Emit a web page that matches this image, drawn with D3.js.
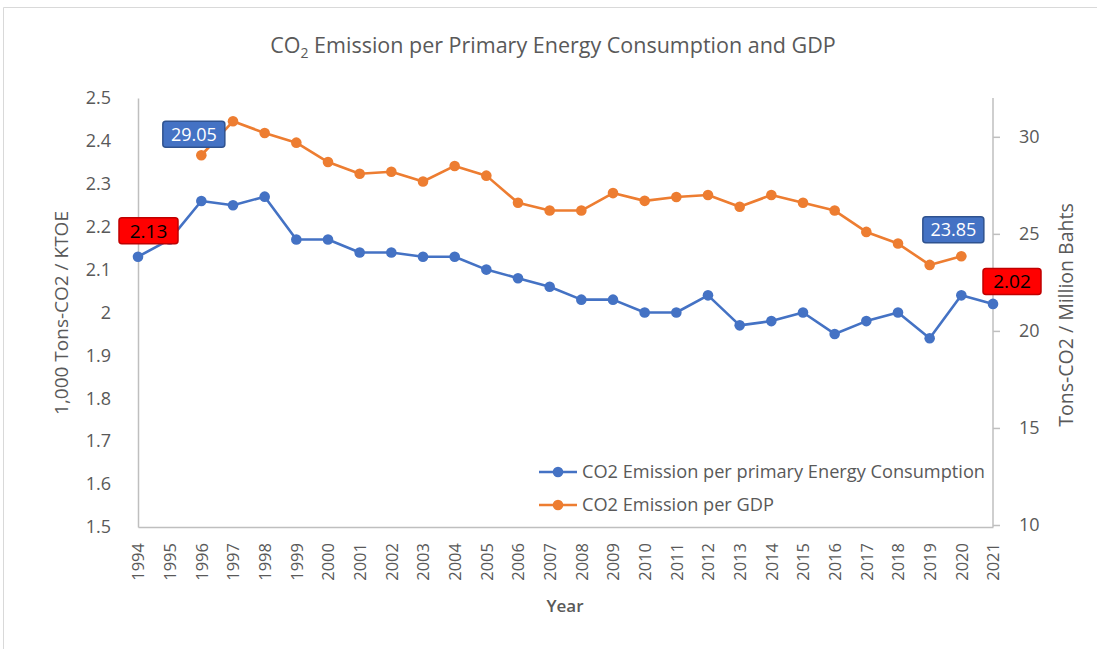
<!DOCTYPE html>
<html>
<head>
<meta charset="utf-8">
<script src="https://cdn.jsdelivr.net/npm/d3@7"></script>
<style>
  html, body { margin: 0; padding: 0; background: #fff; }
  svg { display: block; }
  text { font-family: "Open Sans", "Noto Sans", sans-serif; }
</style>
</head>
<body>
<svg id="chart" width="1097" height="649"></svg>
<script>
// Years on the category axis
const years = [1994, 1995, 1996, 1997, 1998, 1999, 2000, 2001, 2002, 2003, 2004,
  2005, 2006, 2007, 2008, 2009, 2010, 2011, 2012, 2013, 2014, 2015, 2016, 2017,
  2018, 2019, 2020, 2021];

// 1,000 Tons-CO2 / KTOE (left axis)
const perEnergy = [2.13, 2.17, 2.26, 2.25, 2.27, 2.17, 2.17, 2.14, 2.14, 2.13, 2.13,
  2.10, 2.08, 2.06, 2.03, 2.03, 2.00, 2.00, 2.04, 1.97, 1.98, 2.00, 1.95, 1.98,
  2.00, 1.94, 2.04, 2.02];

// Tons-CO2 / Million Bahts (right axis); no figures for 1994, 1995 and 2021
const perGDP = [null, null, 29.05, 30.8, 30.2, 29.7, 28.7, 28.1, 28.2, 27.7, 28.5,
  28.0, 26.6, 26.2, 26.2, 27.1, 26.7, 26.9, 27.0, 26.4, 27.0, 26.6, 26.2, 25.1,
  24.5, 23.4, 23.85, null];

const leftTicks = [1.5, 1.6, 1.7, 1.8, 1.9, 2, 2.1, 2.2, 2.3, 2.4, 2.5];
const rightTicks = [10, 15, 20, 25, 30];

const blue = "#4472C4", orange = "#ED7D31", grey = "#595959", axisGrey = "#BFBFBF";
const FONT = "'Open Sans', 'Noto Sans', sans-serif";

const svg = d3.select("#chart");

// chart frame
svg.append("path")
  .attr("d", "M3.5,649 V7.5 H1097")
  .attr("fill", "none").attr("stroke", "#D9D9D9").attr("stroke-width", 1);

const x = d3.scalePoint().domain(years).range([138, 993]);
const yL = d3.scaleLinear().domain([1.5, 2.5]).range([527, 98]);
const yR = d3.scaleLinear().domain([10, 32]).range([525, 98]);

// title
const title = svg.append("text")
  .attr("x", 553).attr("y", 53).attr("text-anchor", "middle")
  .attr("font-size", 21.5).attr("fill", grey);
title.append("tspan").text("CO");
title.append("tspan").attr("font-size", 14).attr("dy", 5).text("2");
title.append("tspan").attr("dy", -5).text(" Emission per Primary Energy Consumption and GDP");

// left axis
const gL = svg.append("g").attr("transform", "translate(138,0)")
  .call(d3.axisLeft(yL).tickValues(leftTicks).tickSize(0).tickPadding(27)
    .tickFormat(d => String(+d.toFixed(1))));
gL.select(".domain").attr("stroke", axisGrey).attr("stroke-width", 1.5);
gL.selectAll("text").attr("font-size", 18).attr("fill", grey).attr("font-family", FONT);

// right axis
const gR = svg.append("g").attr("transform", "translate(993,0)")
  .call(d3.axisRight(yR).tickValues(rightTicks).tickSize(7).tickPadding(19));
gR.select(".domain").attr("stroke", axisGrey).attr("stroke-width", 1.5)
  .attr("d", `M0,${yL(2.5)}V${yL(1.5)}`);
gR.selectAll("line").attr("stroke", axisGrey).attr("stroke-width", 1.5);
gR.selectAll("text").attr("font-size", 18).attr("fill", grey).attr("font-family", FONT);

// bottom axis
const gB = svg.append("g").attr("transform", "translate(0,527)")
  .call(d3.axisBottom(x).tickSize(0).tickPadding(0));
gB.select(".domain").attr("stroke", axisGrey).attr("stroke-width", 1.5);
gB.selectAll("text")
  .attr("font-size", 16.5).attr("fill", grey).attr("font-family", FONT)
  .attr("text-anchor", "end").attr("dy", "0.35em")
  .attr("transform", "translate(0,16) rotate(-90)")
  .attr("x", 0).attr("y", 0);

// axis titles
svg.append("text").attr("transform", "translate(68,313) rotate(-90)")
  .attr("text-anchor", "middle").attr("font-size", 19).attr("fill", grey)
  .text("1,000 Tons-CO2 / KTOE");
svg.append("text").attr("transform", "translate(1073,315) rotate(-90)")
  .attr("text-anchor", "middle").attr("font-size", 19.5).attr("fill", grey)
  .text("Tons-CO2 / Million Bahts");
svg.append("text").attr("x", 565).attr("y", 612)
  .attr("text-anchor", "middle").attr("font-size", 17).attr("font-weight", 600)
  .attr("fill", grey).text("Year");

// series
function drawSeries(values, yScale, color) {
  const pts = years.map((yr, i) => ({ yr, v: values[i] })).filter(d => d.v != null);
  const line = d3.line().x(d => x(d.yr)).y(d => yScale(d.v));
  svg.append("path").datum(pts).attr("d", line)
    .attr("fill", "none").attr("stroke", color).attr("stroke-width", 2.6)
    .attr("stroke-linejoin", "round");
  svg.append("g").selectAll("circle").data(pts).join("circle")
    .attr("cx", d => x(d.yr)).attr("cy", d => yScale(d.v)).attr("r", 5.3)
    .attr("fill", color);
}
drawSeries(perEnergy, yL, blue);
drawSeries(perGDP, yR, orange);

// value callouts, offset from the point they describe
function callout(px, py, dx, dy, w, h, txt, fill, stroke, color, font, size) {
  const cx = px + dx, cy = py + dy;
  svg.append("rect").attr("x", cx - w / 2).attr("y", cy - h / 2)
    .attr("width", w).attr("height", h).attr("rx", 3)
    .attr("fill", fill).attr("stroke", stroke).attr("stroke-width", 1.5);
  svg.append("text").attr("x", cx).attr("y", cy).attr("dy", "0.36em")
    .attr("text-anchor", "middle").attr("font-size", size).attr("fill", color)
    .attr("font-family", font).text(txt);
}
const ARIAL = "'Liberation Sans', Arial, sans-serif";
const iFirst = 0, iLast = years.length - 1;
callout(x(years[iFirst]), yL(perEnergy[iFirst]), 10.5, -26, 59, 26,
  perEnergy[iFirst].toFixed(2), "#FF0000", "#C00000", "#000", ARIAL, 19);
callout(x(years[iLast]), yL(perEnergy[iLast]), 19, -22.5, 58, 26,
  perEnergy[iLast].toFixed(2), "#FF0000", "#C00000", "#000", ARIAL, 19);
const g96 = years.indexOf(1996), g20 = years.indexOf(2020);
callout(x(years[g96]), yR(perGDP[g96]), -7.5, -21, 62, 26,
  perGDP[g96].toFixed(2), blue, "#2F528F", "#fff", FONT, 18);
callout(x(years[g20]), yR(perGDP[g20]), -8, -26.5, 61, 26,
  perGDP[g20].toFixed(2), blue, "#2F528F", "#fff", FONT, 18);

// legend
const legend = [
  { name: "CO2 Emission per primary Energy Consumption", color: blue },
  { name: "CO2 Emission per GDP", color: orange }
];
const lg = svg.append("g").selectAll("g").data(legend).join("g")
  .attr("transform", (d, i) => `translate(539,${472 + i * 33})`);
lg.append("line").attr("x1", 0).attr("x2", 38).attr("y1", 0).attr("y2", 0)
  .attr("stroke", d => d.color).attr("stroke-width", 2.6);
lg.append("circle").attr("cx", 19).attr("cy", 0).attr("r", 5.3).attr("fill", d => d.color);
lg.append("text").attr("x", 43).attr("dy", "0.35em").attr("font-size", 18.2)
  .attr("fill", grey).text(d => d.name);
</script>
</body>
</html>
